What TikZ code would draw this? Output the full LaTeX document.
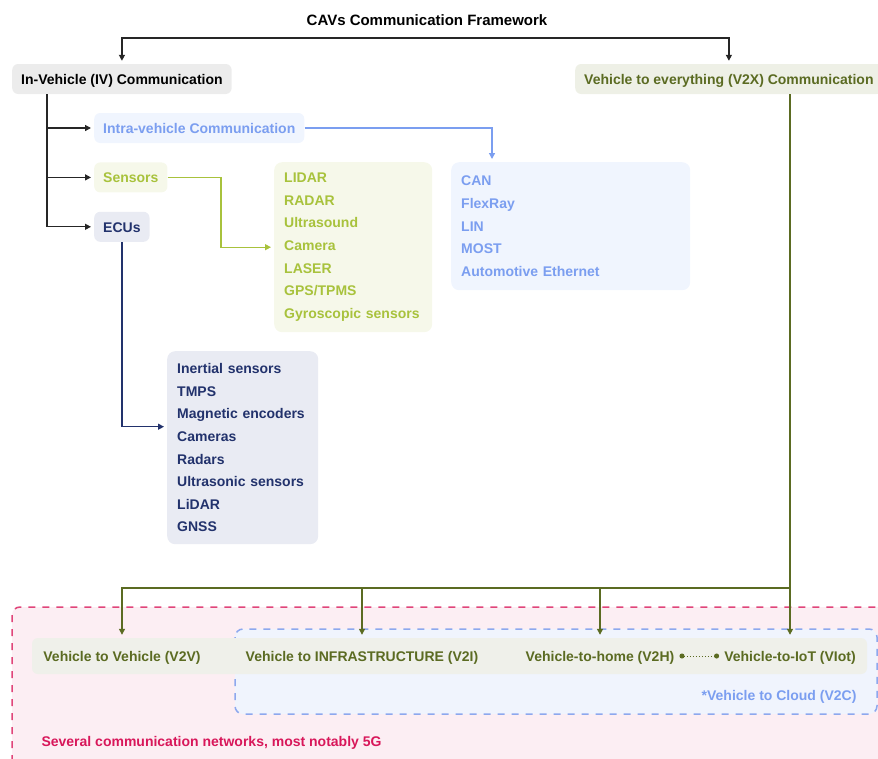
\documentclass[tikz,border=0pt]{standalone}
\usepackage{fontspec}
\setmainfont{Liberation Sans}
\usepackage{xcolor}
\usepackage{tikz}
\usetikzlibrary{positioning,arrows.meta}
\definecolor{ivgray}{HTML}{ECECEC}
\definecolor{olivetxt}{HTML}{5B6B22}
\definecolor{olivefill}{HTML}{EEF0E6}
\definecolor{intrablue}{HTML}{7B9EF0}
\definecolor{intrafill}{HTML}{F0F5FE}
\definecolor{sensgreen}{HTML}{A8C23C}
\definecolor{sensfill}{HTML}{F6F8EA}
\definecolor{ecunavy}{HTML}{22326C}
\definecolor{ecufill}{HTML}{E9EBF3}
\definecolor{netpink}{HTML}{E0457A}
\definecolor{netfill}{HTML}{FCEEF3}
\definecolor{notered}{HTML}{D8175A}
\definecolor{cloudfill}{HTML}{F0F4FD}
\definecolor{cloudline}{HTML}{8DA8EE}
\definecolor{bandfill}{HTML}{EFF0EA}
\tikzset{
	txt/.style={font=\bfseries\fontsize{14}{17}\selectfont},
	box/.style={txt, rounded corners=6pt, inner xsep=9pt, minimum height=30pt, text height=11pt, text depth=0pt},
	listbox/.style={rounded corners=8pt, inner xsep=10pt, align=left, anchor=north west, font=\bfseries\fontsize{14}{22.6}\selectfont},
	rowlabel/.style={txt, text=olivetxt, inner xsep=7pt, minimum height=36pt, text height=11pt, text depth=0pt},
	link/.style={line width=1.3pt, -{Triangle[length=6pt,width=6pt]}, shorten >=3pt},
	dashbox/.style={line width=1.5pt, dash pattern=on 7pt off 7pt, rounded corners=8pt}
}
\begin{document}
\begin{tikzpicture}[x=1pt, y=-1pt]
		\useasboundingbox (0,0) rectangle (878,758);
		\node[font=\bfseries\fontsize{15}{18}\selectfont] (title) at (427,20) {CAVs Communication Framework};
		\coordinate (fork) at (427,38);
		\node[box, fill=ivgray, anchor=west] (iv) at (12,79) {In-Vehicle (IV) Communication};
		\node[box, fill=olivefill, text=olivetxt, anchor=west] (v2x) at (575,79) {Vehicle to everything (V2X) Communication};
		\node[box, fill=intrafill, text=intrablue, anchor=west] (intra) at (94,128) {Intra-vehicle Communication};
		\node[box, fill=sensfill, text=sensgreen, below=19pt of intra.south west, anchor=north west] (sensors) {Sensors};
		\node[box, fill=ecufill, text=ecunavy, below=19pt of sensors.south west, anchor=north west] (ecus) {ECUs};
		\node[listbox, fill=intrafill, text=intrablue, text width=219pt, minimum height=128pt] (buses) at (451,162) {CAN\\FlexRay\\LIN\\MOST\\Automotive Ethernet};
		\node[listbox, fill=sensfill, text=sensgreen, text width=138pt, minimum height=170pt] (senslist) at (274,162) {LIDAR\\RADAR\\Ultrasound\\Camera\\LASER\\GPS/TPMS\\Gyroscopic sensors};
		\node[listbox, fill=ecufill, text=ecunavy, text width=131pt, minimum height=193pt] (eculist) at (167,351) {Inertial sensors\\TMPS\\Magnetic encoders\\Cameras\\Radars\\Ultrasonic sensors\\LiDAR\\GNSS};
		\draw[link, black!85] (fork) -| (iv.north);
		\draw[link, black!85] (fork) -| (v2x.north);
		\draw[link, black!85] ([xshift=35pt]iv.south west) |- (ecus.west);
		\draw[link, black!85] ([xshift=35pt]iv.south west |- intra.west) -- (intra.west);
		\draw[link, black!85] ([xshift=35pt]iv.south west |- sensors.west) -- (sensors.west);
		\draw[link, intrablue] (intra.east) -| ([xshift=41pt]buses.north west);
		\draw[link, sensgreen] (sensors.east) -| ([xshift=-53pt]senslist.west) -- (senslist.west);
		\draw[link, ecunavy] (ecus.south) |- ([yshift=21pt]eculist.west);
		\draw[dashbox, draw=netpink, fill=netfill] (12,607) rectangle (900,790);
		\draw[dashbox, draw=cloudline, fill=cloudfill] (235,629) rectangle (877,714);
		\node[fill=bandfill, rounded corners=6pt, minimum width=835pt, minimum height=36pt] (band) at (449.5,656) {};
		\node[rowlabel] (v2v) at (122,656) {Vehicle to Vehicle (V2V)};
		\node[rowlabel] (v2i) at (362,656) {Vehicle to INFRASTRUCTURE (V2I)};
		\node[rowlabel] (v2h) at (600,656) {Vehicle-to-home (V2H)};
		\node[rowlabel] (viot) at (790,656) {Vehicle-to-IoT (VIot)};
		\draw[olivetxt, line width=1pt, dotted, {Circle[length=5pt,width=5pt,sep=-2pt]}-{Circle[length=5pt,width=5pt,sep=-2pt]}] (v2h.east) -- (viot.west);
		\node[txt, text=intrablue, anchor=east] (v2c) at (860,697) {*Vehicle to Cloud (V2C)};
		\node[txt, text=notered, anchor=west] (note) at (38,743) {Several communication networks, most notably 5G};
		\coordinate (split) at (790,588);
		\draw[link, olivetxt] (v2x.south -| viot) -- (viot.north);
		\draw[link, olivetxt] (split) -| (v2v.north);
		\draw[link, olivetxt] (split) -| (v2i.north);
		\draw[link, olivetxt] (split) -| (v2h.north);
	\end{tikzpicture}
\end{document}
